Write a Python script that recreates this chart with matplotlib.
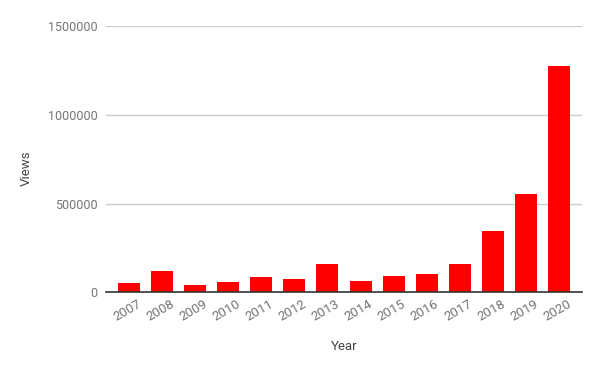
import matplotlib
matplotlib.use("Agg")
import matplotlib.pyplot as plt
from matplotlib.ticker import FixedLocator
import matplotlib.transforms as mtransforms

years = ["2007", "2008", "2009", "2010", "2011", "2012", "2013",
         "2014", "2015", "2016", "2017", "2018", "2019", "2020"]
views = [52600, 122000, 41000, 58000, 86000, 75000, 160000,
         64000, 92000, 103000, 159600, 345600, 554000, 1274000]
y_ticks = [0, 500000, 1000000, 1500000]

plt.rcParams['font.family'] = ['Roboto', 'DejaVu Sans']

fig = plt.figure(figsize=(6, 3.71), dpi=100)
ax = fig.add_axes([106/600, (371-292.3)/371, (582-106)/600, (292.3-26.3)/371])

x = list(range(len(years)))
ax.bar(x, views, width=0.667, color="#ff0000", zorder=3)

ax.set_xlim(-0.695, len(years) - 1 + 0.695)
ax.set_ylim(0, 1500000)
ax.yaxis.set_major_locator(FixedLocator(y_ticks))
ax.set_yticklabels([str(v) for v in y_ticks])
ax.grid(axis='y', color="#cccccc", linewidth=1, zorder=0)
ax.set_axisbelow(True)

for s in ['top', 'right', 'left']:
    ax.spines[s].set_visible(False)
ax.spines['bottom'].set_color("#333333")
ax.spines['bottom'].set_linewidth(1.2)
ax.spines['bottom'].set_zorder(4)

ax.tick_params(axis='y', length=0, pad=6, labelsize=9, labelcolor="#757575")
ax.tick_params(axis='x', length=0, pad=4, labelsize=9.5, labelcolor="#757575")
ax.set_xticks(x)
ax.set_xticklabels(years, rotation=30, ha='right', rotation_mode='anchor')
offset = mtransforms.ScaledTranslation(8/100, 0, fig.dpi_scale_trans)
for lbl in ax.get_xticklabels():
    lbl.set_transform(lbl.get_transform() + offset)

ax.set_xlabel("Year", fontsize=9.5, color="#444444")
ax.set_ylabel("Views", fontsize=9.5, color="#444444")
ax.xaxis.set_label_coords((344-106)/476, (292.3-340)/266, transform=ax.transAxes)
ax.yaxis.set_label_coords((33-106)/476, (292.3-168)/266, transform=ax.transAxes)

fig.savefig("out.png", dpi=100)
